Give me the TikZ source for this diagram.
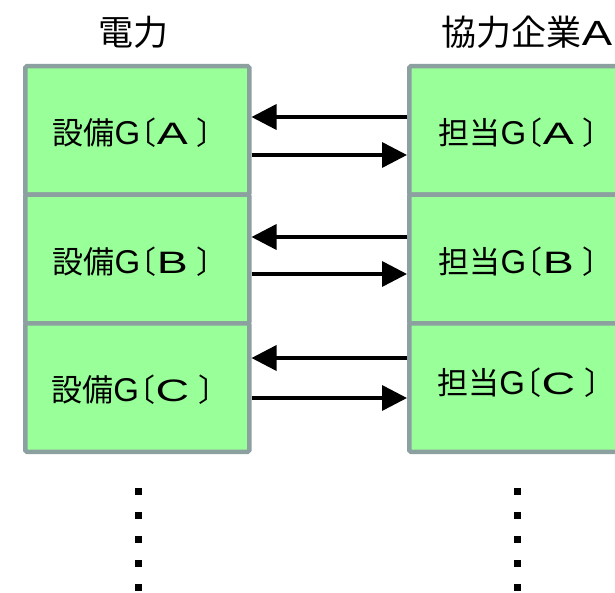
\documentclass[tikz,border=0pt]{standalone}
\usepackage{fontspec}
\setmainfont{Noto Sans CJK JP}
\newfontfamily\cjkf{Noto Sans CJK JP}
\newfontfamily\cjkb{Noto Sans CJK JP}[RawFeature=+palt]
\newfontfamily\latf{Liberation Sans}
\newfontfamily\widef{Liberation Sans}[FakeStretch=1.5]
\newfontfamily\titlewide{Liberation Sans}[FakeStretch=1.3]
\usetikzlibrary{arrows.meta}
\definecolor{boxgreen}{RGB}{153,255,153}
\definecolor{boxgray}{RGB}{140,160,160}
\newcommand\boxlbl[2]{{\fontsize{31}{36}\cjkf #1}{\fontsize{33}{36}\latf G}{\fontsize{31}{36}\cjkb 〔}\hspace{1pt}{\fontsize{31}{36}\widef #2}\hspace{10pt}{\fontsize{31}{36}\cjkb 〕}}
\begin{document}
\begin{tikzpicture}[x=1pt,y=-1pt,
  cell/.style={draw=boxgray, fill=boxgreen, line width=4.5pt, rounded corners=1.5pt,
    minimum width=224pt, minimum height=128.5pt, inner sep=0pt, anchor=north west},
  celltext/.style={inner sep=0pt},
  title/.style={font=\fontsize{35}{40}\selectfont, inner sep=0pt},
  arr/.style={line width=3.5pt, -{Triangle[length=25pt,width=25pt]}},
  dotsq/.style={fill=black, minimum size=7pt, inner sep=0pt, draw=none}
]
\useasboundingbox (0,0) rectangle (615,593);
\fill[white] (0,0) rectangle (615,593);

\node[title] (t1) at (133,32) {電力};
\node[title] (t2) at (527,32) {協力企業{\titlewide A}};

\node[cell] (la) at (23,64) {};
\node[cell] (lb) at (23,192.5) {};
\node[cell] (lc) at (23,321) {};
\node[cell] (ra) at (407,64) {};
\node[cell] (rb) at (407,192.5) {};
\node[cell] (rc) at (407,321) {};

\node[celltext] (lat) at (133,133) {\boxlbl{設備}{A}};
\node[celltext] (lbt) at (133,262) {\boxlbl{設備}{B}};
\node[celltext] (lct) at (133,390) {\boxlbl{設備}{C}};
\node[celltext] (rat) at (519,133) {\boxlbl{担当}{A}};
\node[celltext] (rbt) at (519,262) {\boxlbl{担当}{B}};
\node[celltext] (rct) at (519,383) {\boxlbl{担当}{C}};

\draw[arr] (ra.west |- 0,117) -- (la.east |- 0,117);
\draw[arr] (la.east |- 0,155) -- (ra.west |- 0,155);
\draw[arr] (rb.west |- 0,237) -- (lb.east |- 0,237);
\draw[arr] (lb.east |- 0,274) -- (rb.west |- 0,274);
\draw[arr] (rc.west |- 0,358) -- (lc.east |- 0,358);
\draw[arr] (lc.east |- 0,398) -- (rc.west |- 0,398);

\foreach \i in {0,...,4} {
  \node[dotsq] (ld\i) at (138,{491+24*\i}) {};
  \node[dotsq] (rd\i) at (517,{491+24*\i}) {};
}
\end{tikzpicture}
\end{document}
